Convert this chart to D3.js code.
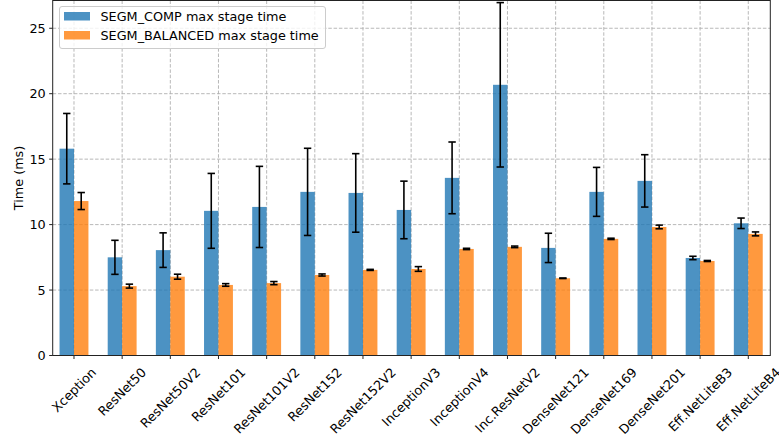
<!DOCTYPE html>
<html>
<head>
<meta charset="utf-8">
<script src="https://cdn.jsdelivr.net/npm/d3@7"></script>
<style>
  html, body { margin: 0; padding: 0; background: #fff; }
  svg { display: block; font-family: "DejaVu Sans", sans-serif; }
</style>
</head>
<body>
<svg id="chart" width="779" height="438"></svg>
<script>
// Model names along the x axis
const models = ["Xception", "ResNet50", "ResNet50V2", "ResNet101", "ResNet101V2",
  "ResNet152", "ResNet152V2", "InceptionV3", "InceptionV4", "Inc.ResNetV2",
  "DenseNet121", "DenseNet169", "DenseNet201", "Eff.NetLiteB3", "Eff.NetLiteB4"];

// Max stage time (ms) and its spread for each segmentation strategy
const compMean = [15.8, 7.5, 8.05, 11.05, 11.35, 12.5, 12.42, 11.12, 13.57, 20.68, 8.22, 12.5, 13.34, 7.45, 10.1];
const compErr  = [2.69, 1.3, 1.32, 2.86, 3.1, 3.33, 3.0, 2.2, 2.74, 6.28, 1.12, 1.87, 2.0, 0.13, 0.4];
const balMean  = [11.8, 5.3, 6.02, 5.39, 5.53, 6.15, 6.54, 6.61, 8.14, 8.3, 5.9, 8.91, 9.82, 7.22, 9.29];
const balErr   = [0.65, 0.15, 0.19, 0.1, 0.12, 0.08, 0.04, 0.18, 0.05, 0.06, 0.02, 0.05, 0.14, 0.04, 0.15];

const yTicks = [0, 5, 10, 15, 20, 25];
const seriesNames = ["SEGM_COMP max stage time", "SEGM_BALANCED max stage time"];
const seriesColors = ["#1f77b4", "#ff7f0e"];

const svg = d3.select("#chart");
const plotLeft = 52.7, plotRight = 770.3, plotTop = 0.5, plotBottom = 355.5;
const barW = 0.3;

const x = d3.scaleLinear().domain([-0.442, models.length - 1 + 0.457]).range([plotLeft, plotRight]);
const y = d3.scaleLinear().domain([0, 27.12]).range([plotBottom, plotTop]);

// Grid
const grid = svg.append("g").attr("stroke", "#b0b0b0").attr("stroke-width", 0.9)
  .attr("stroke-dasharray", "3.5,1.8");
grid.selectAll("line.gx").data(models.map((d, i) => i)).join("line")
  .attr("x1", d => x(d)).attr("x2", d => x(d)).attr("y1", plotTop).attr("y2", plotBottom);
grid.selectAll("line.gy").data(yTicks.filter(t => t > 0)).join("line")
  .attr("x1", plotLeft).attr("x2", plotRight).attr("y1", d => y(d)).attr("y2", d => y(d));

// Bars
const series = [
  { mean: compMean, err: compErr, off: -barW / 2, color: seriesColors[0] },
  { mean: balMean, err: balErr, off: barW / 2, color: seriesColors[1] }
];
series.forEach(s => {
  const g = svg.append("g");
  g.selectAll("rect").data(s.mean).join("rect")
    .attr("x", (d, i) => x(i + s.off - barW / 2))
    .attr("width", (d, i) => x(i + s.off + barW / 2) - x(i + s.off - barW / 2))
    .attr("y", d => y(d))
    .attr("height", d => y(0) - y(d))
    .attr("fill", s.color).attr("fill-opacity", 0.8);
});

// Error bars
series.forEach(s => {
  const g = svg.append("g").attr("stroke", "#000").attr("stroke-width", 1.6);
  const cap = 3.7;
  s.mean.forEach((m, i) => {
    const cx = x(i + s.off);
    const lo = y(m - s.err[i]), hi = y(m + s.err[i]);
    g.append("line").attr("x1", cx).attr("x2", cx).attr("y1", lo).attr("y2", hi);
    g.append("line").attr("x1", cx - cap).attr("x2", cx + cap).attr("y1", lo).attr("y2", lo);
    g.append("line").attr("x1", cx - cap).attr("x2", cx + cap).attr("y1", hi).attr("y2", hi);
  });
});

// Frame
svg.append("rect").attr("x", plotLeft).attr("y", plotTop).attr("width", plotRight - plotLeft)
  .attr("height", plotBottom - plotTop)
  .attr("fill", "none").attr("stroke", "#222").attr("stroke-width", 1);

// Y axis ticks and labels
const fs = 12.8;
const yax = svg.append("g");
yTicks.forEach(t => {
  yax.append("line").attr("x1", plotLeft - 3.5).attr("x2", plotLeft).attr("y1", y(t)).attr("y2", y(t))
    .attr("stroke", "#222").attr("stroke-width", 1);
  yax.append("text").attr("x", plotLeft - 7).attr("y", y(t)).attr("dy", "0.36em")
    .attr("text-anchor", "end").attr("font-size", fs).attr("fill", "#000").text(t);
});
svg.append("text").attr("transform", `translate(18,${(plotTop + plotBottom) / 2}) rotate(-90)`)
  .attr("text-anchor", "middle").attr("dy", "0.36em").attr("font-size", fs).text("Time (ms)");

// X axis ticks and rotated labels
const xax = svg.append("g");
models.forEach((m, i) => {
  const tx = x(i);
  xax.append("line").attr("x1", tx).attr("x2", tx).attr("y1", plotBottom).attr("y2", plotBottom + 3.5)
    .attr("stroke", "#222").attr("stroke-width", 1);
  const t = xax.append("text").attr("font-size", fs).attr("text-anchor", "middle")
    .attr("dominant-baseline", "central").text(m);
  const w = t.node().getComputedTextLength();
  const h = (w + fs) * Math.SQRT1_2;
  t.attr("transform", `translate(${tx},${plotBottom + 10 + h / 2}) rotate(-45)`);
});

// Legend
const lg = svg.append("g");
lg.append("rect").attr("x", 59.5).attr("y", 6.5).attr("width", 266).attr("height", 42)
  .attr("rx", 2.5).attr("fill", "#fff").attr("fill-opacity", 0.8)
  .attr("stroke", "#ccc").attr("stroke-width", 1);
seriesNames.forEach((n, i) => {
  const yy = 12 + i * 19;
  lg.append("rect").attr("x", 64).attr("y", yy).attr("width", 26).attr("height", 8.5)
    .attr("fill", seriesColors[i]).attr("fill-opacity", 0.8);
  lg.append("text").attr("x", 100.5).attr("y", yy + 4.5).attr("dy", "0.36em")
    .attr("font-size", fs).text(n);
});
</script>
</body>
</html>
